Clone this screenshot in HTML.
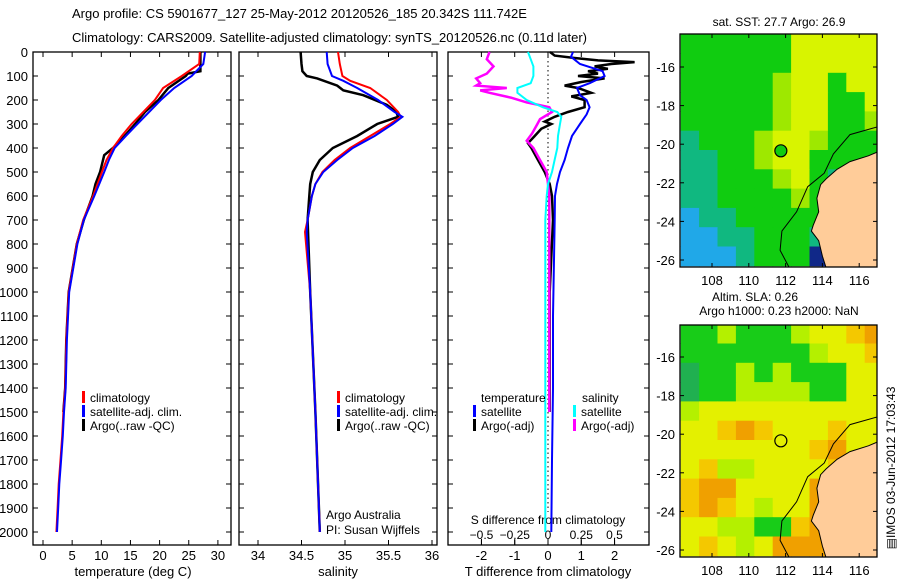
<!DOCTYPE html>
<html><head><meta charset="utf-8">
<style>
html,body{margin:0;padding:0;background:#fff;}
svg{display:block;font-family:"Liberation Sans",sans-serif;}
text{fill:#000;}
</style></head>
<body>
<svg id="fig" width="900" height="580" viewBox="0 0 900 580" xmlns="http://www.w3.org/2000/svg">
<text x="72" y="18" font-size="13">Argo profile: CS 5901677_127 25-May-2012 20120526_185 20.342S 111.742E</text>
<text x="72" y="42" font-size="13">Climatology: CARS2009. Satellite-adjusted climatology: synTS_20120526.nc (0.11d later)</text>
<g id="g"></g>
</svg>
<script>
// ---- profile data ----
const tDepthClim = [0,50,100,150,200,250,300,350,400,450,500,600,700,800,1000,1200,1400,1500,1600,1700,1800,1900,2000];
const tempClim   = [26.9,26.8,23.8,20.6,19.2,17.2,15.2,13.5,12.0,10.9,10.1,8.6,6.9,5.8,4.4,4.0,3.8,3.5,3.3,3.0,2.7,2.5,2.3];
const tempSat    = [27.8,27.5,25.5,22.5,20.2,18.2,16.2,14.2,12.3,11.3,10.5,8.8,7.0,5.9,4.5,4.1,3.9,3.6,3.4,3.1,2.8,2.6,2.4];
const tDepthArgo = [0,80,90,100,150,200,250,300,350,400,430,500,550,600,700,800,1000,1200,1400,1500];
const tempArgo   = [27.0,27.0,24.8,24.5,21.5,19.8,17.5,15.8,14.0,12.0,10.5,9.8,9.0,8.5,7.0,5.8,4.4,4.0,3.8,3.5];

const sDepth   = [0,50,100,120,150,200,250,270,300,350,400,450,500,550,600,700,750,1000,1500,2000];
const salClim  = [34.92,34.94,34.97,35.06,35.29,35.48,35.61,35.64,35.52,35.29,35.06,34.88,34.74,34.66,34.62,34.57,34.54,34.6,34.66,34.71];
const salSat   = [34.79,34.80,34.85,34.98,35.14,35.38,35.57,35.66,35.55,35.34,35.09,34.91,34.75,34.66,34.62,34.57,34.56,34.6,34.66,34.71];
const sDepthArgo = [0,50,80,100,110,140,160,180,220,250,270,300,350,400,450,500,550,600,700,1000,1500,2000];
const salArgo    = [34.49,34.50,34.51,34.56,34.68,34.91,34.98,35.21,35.48,35.59,35.61,35.37,35.14,34.86,34.71,34.63,34.60,34.59,34.57,34.6,34.66,34.71];

const dDepthSat = [0,20,50,80,100,130,150,180,200,230,260,300,350,400,450,500,550,600,700,1100,1400,1700,2000];
const dTempSat  = [0.75,0.69,0.96,1.64,1.7,1.25,0.87,0.96,1.16,1.25,1.16,0.96,0.72,0.6,0.5,0.36,0.27,0.21,0.2,0.15,0.15,0.12,0.1];
const dDepthArgo = [0,15,25,35,42,50,60,70,80,90,100,110,125,140,150,170,185,200,230,250,270,290,300,320,350,380,400,450,500,550,600,700,1000,1500];
const dTempArgo  = [0.06,0.2,0.8,1.5,2.6,1.9,1.4,1.8,1.2,1.5,0.9,1.7,1.0,0.5,0.9,1.3,0.7,1.1,1.1,0.6,0.2,-0.1,0.1,-0.2,-0.4,-0.6,-0.5,-0.3,-0.1,0.05,0.12,0.15,0.05,0.05];
const dSDepthSat = [0,30,60,100,130,150,170,200,230,250,270,300,350,400,450,500,550,600,700,1000,1500,2000];
const dSalSat    = [-0.15,-0.13,-0.11,-0.11,-0.13,-0.23,-0.23,-0.16,-0.04,0.07,0.1,0.09,0.075,0.07,0.05,0.03,0,-0.01,-0.02,-0.02,-0.02,-0.02];
const dSDepthArgo = [0,30,60,90,110,130,140,150,160,170,190,210,230,250,280,300,340,370,400,450,500,550,600,1000,1500];
const dSalArgo    = [-0.44,-0.46,-0.41,-0.46,-0.54,-0.51,-0.54,-0.31,-0.51,-0.44,-0.28,-0.16,0.01,0.03,-0.06,-0.08,-0.12,-0.16,-0.11,-0.06,-0.01,0.0,0.01,0.01,0.01];

// ticks
const depthTicks = [0,100,200,300,400,500,600,700,800,900,1000,1100,1200,1300,1400,1500,1600,1700,1800,1900,2000];
const tempTicks = [0,5,10,15,20,25,30];
const salTicks = [34,34.5,35,35.5,36];
const dTTicks = [-2,-1,0,1,2];
const dSTicks = [-0.5,-0.25,0,0.25,0.5];
const lonTicks = [108,110,112,114,116];
const latTicks = [-16,-18,-20,-22,-24,-26];

// map grids (1 deg cells, rows from lat -14.3 downward, cols from lon 106.3)
const sstGrid = ["GGGGGGYYYYY","GGGGGGYYYYY","GGGGGLYYGYY","GGGGGLYYGGY","GGGGGLYYGGL","TGGGLYYLGGG","TTGGLYYGGGG","TTGGGLYGTGG","TTGGGGLGGGG","BTTGGGGGGGG","BBTTGGGTNGG","BBBTGGGNNGG"];
const slaGrid = ["GGLGGGLYYoO","GGGGGGGLYYo","gGGLGLGGGYY","gGGLLLLGGYY","LYYYYYYYYYY","YYoOoYYYoYY","YYYYYYYoOYY","YoLLYYYYoOO","oOOYYYYOOOO","oOoYLYYOOOO","YYLLGGoOOOO","YoYLYOOOOOO"];
const sstPal = {G:"#10cc10",g:"#20b030",Y:"#d8f400",L:"#9ee800",T:"#10b880",B:"#20a8e8",N:"#102888"};
const slaPal = {G:"#18cc18",g:"#20b050",Y:"#e4f000",L:"#b4f000",o:"#f4c800",O:"#f0a000"};
const argoLon = 111.742, argoLat = -20.342;
const landLon = [117,116.5,115.5,114.8,114.2,113.9,113.7,113.8,113.5,113.4,113.8,114.0,114.2,117];
const landLat = [-20.4,-20.6,-20.9,-21.3,-21.8,-22.1,-22.8,-23.5,-24.2,-24.5,-25.0,-25.8,-26.4,-26.4];
const contLon = [117,115.5,114.6,114.1,113.2,112.6,111.8,111.7,112.2];
const contLat = [-19.1,-19.5,-20.5,-21.5,-22.2,-23.5,-24.5,-25.5,-26.4];

const NS="http://www.w3.org/2000/svg";
const G=document.getElementById('g');
function mk(tag,attrs,parent){const e=document.createElementNS(NS,tag);for(const k in attrs)e.setAttribute(k,attrs[k]);(parent||G).appendChild(e);return e;}
function txt(x,y,s,size,anchor,parent){const t=mk('text',{x:x,y:y,'font-size':size||12,'text-anchor':anchor||'start'},parent);t.textContent=s;return t;}

const yD = d => 52 + d*0.24;
const xT = t => 43 + t*5.83;
const xS = s => 258 + (s-34)*87;
const xDT = v => 548 + v*33.3;
const xDS = v => 548 + v*133;

function line(xs,ds,fx,color,w,name){
  const pts=xs.map((v,i)=>fx(v).toFixed(1)+','+yD(ds[i]).toFixed(1)).join(' ');
  const p=mk('polyline',{points:pts,fill:'none',stroke:color,'stroke-width':w,'stroke-linejoin':'miter'});
  
  
}
function frame(x0,x1,name){
  const r=mk('rect',{x:x0,y:52,width:x1-x0,height:493,fill:'none',stroke:'#000','stroke-width':1.3});
  
  
  depthTicks.forEach(d=>{mk('line',{x1:x0,x2:x0+5,y1:yD(d),y2:yD(d),stroke:'#000'});mk('line',{x1:x1-5,x2:x1,y1:yD(d),y2:yD(d),stroke:'#000'});});
}
// panel 1
frame(33,231,'temperature-panel');
depthTicks.forEach(d=>{const t=txt(28,yD(d)+5,String(d),13,'end');});
tempTicks.forEach(v=>{mk('line',{x1:xT(v),x2:xT(v),y1:52,y2:57,stroke:'#000'});mk('line',{x1:xT(v),x2:xT(v),y1:540,y2:545,stroke:'#000'});const t=txt(xT(v),560,String(v),13,'middle');});
{const t=txt(133,576,'temperature (deg C)',13,'middle');}
line(tempArgo,tDepthArgo,xT,'#000000',2.5,'temp-argo-line');
line(tempClim,tDepthClim,xT,'#ff0000',2,'temp-climatology-line');
line(tempSat,tDepthClim,xT,'#0000ff',2,'temp-satellite-line');

// panel 2
frame(239,437,'salinity-panel');
salTicks.forEach(v=>{mk('line',{x1:xS(v),x2:xS(v),y1:52,y2:57,stroke:'#000'});mk('line',{x1:xS(v),x2:xS(v),y1:540,y2:545,stroke:'#000'});const t=txt(xS(v),560,String(v),13,'middle');});
{const t=txt(338,576,'salinity',13,'middle');}
line(salArgo,sDepthArgo,xS,'#000000',2.5,'sal-argo-line');
line(salClim,sDepth,xS,'#ff0000',2,'sal-climatology-line');
line(salSat,sDepth,xS,'#0000ff',2,'sal-satellite-line');
{const t=txt(326,519,'Argo Australia',12);}
{const t=txt(326,534,'PI: Susan Wijffels',12);}

// panel 3
frame(448,649,'difference-panel');
mk('line',{x1:548,x2:548,y1:52,y2:512,stroke:'#000','stroke-dasharray':'1.5,3'});
dTTicks.forEach(v=>{mk('line',{x1:xDT(v),x2:xDT(v),y1:52,y2:57,stroke:'#000'});mk('line',{x1:xDT(v),x2:xDT(v),y1:540,y2:545,stroke:'#000'});const t=txt(xDT(v),560,String(v),13,'middle');});
dSTicks.forEach(v=>{mk('line',{x1:xDS(v),x2:xDS(v),y1:539,y2:545,stroke:'#000'});const t=txt(xDS(v),539,'',12,'middle');t.textContent=(v<0?'\u2212':'')+Math.abs(v);});
{const t=txt(548,524,'S difference from climatology',12,'middle');}
{const t=txt(548,576,'T difference from climatology',13,'middle');}
line(dTempArgo,dDepthArgo,xDT,'#000000',2.5,'tdiff-argo-line');
line(dSalArgo,dSDepthArgo,xDS,'#ff00ff',2.5,'sdiff-argo-line');
line(dSalSat,dSDepthSat,xDS,'#00ffff',2,'sdiff-satellite-line');
line(dTempSat,dDepthSat,xDT,'#0000ff',2,'tdiff-satellite-line');

// legends
function legend(x,y,color,label,name){
  const g=mk('g',{});
  mk('rect',{x:x,y:y-11,width:3,height:12,fill:color},g);txt(x+8,y,label,12,'start',g);
}
legend(82,402,'#ff0000','climatology','legend-temp-climatology');
legend(82,416,'#0000ff','satellite-adj. clim.','legend-temp-satellite');
legend(82,430,'#000000','Argo(..raw -QC)','legend-temp-argo');
legend(337,402,'#ff0000','climatology','legend-sal-climatology');
legend(337,416,'#0000ff','satellite-adj. clim.','legend-sal-satellite');
legend(337,430,'#000000','Argo(..raw -QC)','legend-sal-argo');
{const t=txt(481,402,'temperature',12);}
{const t=txt(582,402,'salinity',12);}
legend(473,416,'#0000ff','satellite','legend-tdiff-satellite');
legend(473,430,'#000000','Argo(-adj)','legend-tdiff-argo');
legend(573,416,'#00ffff','satellite','legend-sdiff-satellite');
legend(573,430,'#ff00ff','Argo(-adj)','legend-sdiff-argo');

// maps
const lonX = lon => 712 + (lon-108)*18.4;
function drawMap(top,bottom,y0,grid,pal,name,fillCircle){
  const latY = lat => y0 + (-16-lat)*19.3;
  const g=mk('g',{});
  const cp=mk('clipPath',{id:'cp'+name},g);mk('rect',{x:680,y:top,width:197,height:bottom-top},cp);
  const inner=mk('g',{'clip-path':'url(#cp'+name+')'},g);
  grid.forEach((row,r)=>{[...row].forEach((c,ci)=>{
    const lon=106.3+ci, lat=-14.3-r;
    mk('rect',{x:lonX(lon).toFixed(1),y:latY(lat).toFixed(1),width:18.9,height:19.8,fill:pal[c]},inner);
  });});
  mk('polygon',{points:landLon.map((l,i)=>lonX(l).toFixed(1)+','+latY(landLat[i]).toFixed(1)).join(' '),fill:'#ffcc99',stroke:'#000','stroke-width':1},inner);
  mk('polyline',{points:contLon.map((l,i)=>lonX(l).toFixed(1)+','+latY(contLat[i]).toFixed(1)).join(' '),fill:'none',stroke:'#000','stroke-width':1},inner);
  const c=mk('circle',{cx:lonX(argoLon),cy:latY(argoLat),r:6,fill:fillCircle,stroke:'#000','stroke-width':1.2},g);
  
  mk('rect',{x:680,y:top,width:197,height:bottom-top,fill:'none',stroke:'#000','stroke-width':1.3},g);
  lonTicks.forEach(v=>{mk('line',{x1:lonX(v),x2:lonX(v),y1:top,y2:top+4,stroke:'#000'},g);mk('line',{x1:lonX(v),x2:lonX(v),y1:bottom-4,y2:bottom,stroke:'#000'},g);txt(lonX(v),bottom+18,String(v),13,'middle',g);});
  latTicks.forEach(v=>{mk('line',{x1:680,x2:684,y1:latY(v),y2:latY(v),stroke:'#000'},g);mk('line',{x1:873,x2:877,y1:latY(v),y2:latY(v),stroke:'#000'},g);txt(675,latY(v)+5,String(v),13,'end',g);});
}
drawMap(34,267,67,sstGrid,sstPal,'sst-map','#10cc10');
drawMap(325,557,357,slaGrid,slaPal,'sla-map','none');
{const t=txt(779,26,'sat. SST: 27.7 Argo: 26.9',12,'middle');}
{const t=txt(755,301,'Altim. SLA: 0.26',12,'middle');}
{const t=txt(779,315,'Argo h1000: 0.23 h2000: NaN',12,'middle');}
{const t=txt(0,0,'\u25A4IMOS 03-Jun-2012 17:03:43',12,'middle');t.setAttribute('transform','translate(895,468) rotate(-90)');}
</script>
</body></html>
